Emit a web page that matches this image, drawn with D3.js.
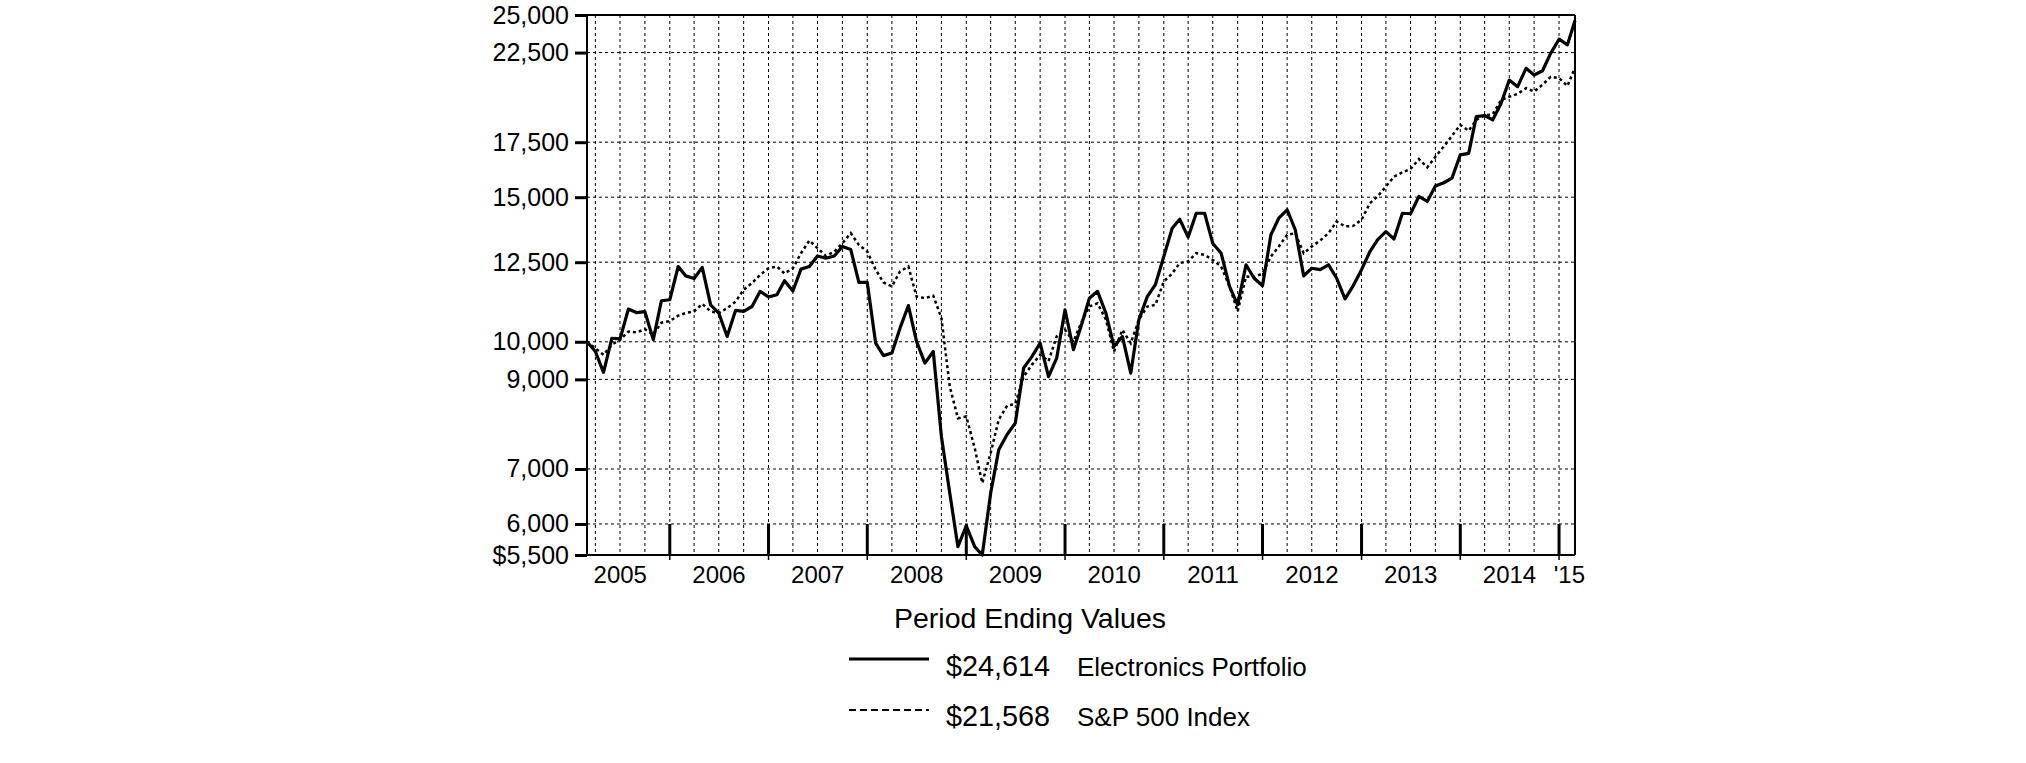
<!DOCTYPE html>
<html>
<head>
<meta charset="utf-8">
<script src="https://cdn.jsdelivr.net/npm/d3@7"></script>
<style>
  html, body { margin: 0; padding: 0; background: #fff; }
  svg { display: block; }
  text { font-family: "Liberation Sans", Arial, sans-serif; fill: #000; }
</style>
</head>
<body>
<svg id="chart" width="2026" height="763"></svg>
<script>
// ---------- DATA ----------
const months = [
  "2005-02","2005-03","2005-04","2005-05","2005-06","2005-07","2005-08","2005-09","2005-10","2005-11","2005-12",
  "2006-01","2006-02","2006-03","2006-04","2006-05","2006-06","2006-07","2006-08","2006-09","2006-10","2006-11","2006-12",
  "2007-01","2007-02","2007-03","2007-04","2007-05","2007-06","2007-07","2007-08","2007-09","2007-10","2007-11","2007-12",
  "2008-01","2008-02","2008-03","2008-04","2008-05","2008-06","2008-07","2008-08","2008-09","2008-10","2008-11","2008-12",
  "2009-01","2009-02","2009-03","2009-04","2009-05","2009-06","2009-07","2009-08","2009-09","2009-10","2009-11","2009-12",
  "2010-01","2010-02","2010-03","2010-04","2010-05","2010-06","2010-07","2010-08","2010-09","2010-10","2010-11","2010-12",
  "2011-01","2011-02","2011-03","2011-04","2011-05","2011-06","2011-07","2011-08","2011-09","2011-10","2011-11","2011-12",
  "2012-01","2012-02","2012-03","2012-04","2012-05","2012-06","2012-07","2012-08","2012-09","2012-10","2012-11","2012-12",
  "2013-01","2013-02","2013-03","2013-04","2013-05","2013-06","2013-07","2013-08","2013-09","2013-10","2013-11","2013-12",
  "2014-01","2014-02","2014-03","2014-04","2014-05","2014-06","2014-07","2014-08","2014-09","2014-10","2014-11","2014-12",
  "2015-01","2015-02"
];

const electronics = [
  10000, 9730, 9180, 10100, 10080, 10960, 10850, 10880, 10060, 11220, 11250,
  12350, 12030, 11940, 12320, 11090, 10840, 10150, 10920, 10890, 11040, 11520, 11340,
  11410, 11870, 11530, 12260, 12350, 12720, 12640, 12720, 13060, 12950, 11810, 11810,
  9960, 9620, 9690, 10390, 11070, 10010, 9420, 9730, 7670, 6540, 5630, 5970,
  5630, 5500, 6540, 7390, 7710, 7960, 9290, 9600, 9960, 9070, 9550, 10940,
  9780, 10440, 11300, 11520, 10840, 9870, 10150, 9160, 10640, 11350, 11740, 12700,
  13750, 14100, 13410, 14340, 14340, 13180, 12820, 11680, 11090, 12410, 11950, 11700,
  13500, 14140, 14480, 13690, 12030, 12290, 12240, 12410, 11950, 11280, 11700, 12240,
  12880, 13310, 13620, 13340, 14340, 14320, 15030, 14820, 15480, 15620, 15820, 16890,
  16960, 18800, 18860, 18630, 19520, 20830, 20450, 21530, 21130, 21380, 22450, 23360,
  22990, 24614
];

const sp500 = [
  10000, 9820, 9640, 9920, 10060, 10290, 10265, 10360, 10200, 10550, 10600,
  10760, 10840, 10890, 11120, 10890, 10840, 10990, 11190, 11570, 11790, 12065, 12290,
  12350, 12110, 12290, 12820, 13285, 13000, 12720, 12880, 13180, 13560, 13120, 12880,
  12240, 11810, 11680, 12180, 12350, 11355, 11300, 11380, 10690, 8820, 8070, 8110,
  7425, 6730, 7320, 8040, 8360, 8400, 9070, 9380, 9640, 9470, 10150, 10340,
  10000, 10540, 11040, 11140, 10640, 9730, 10340, 9960, 10640, 11040, 11090, 11840,
  12110, 12470, 12530, 12820, 12760, 12580, 12350, 11680, 10890, 12010, 11990, 12110,
  12700, 13060, 13500, 13560, 12820, 13060, 13285, 13560, 14010, 13820, 13840, 14080,
  14750, 15030, 15450, 15890, 16080, 16230, 16690, 16310, 16800, 17290, 17810, 18370,
  18070, 18630, 18860, 18930, 19700, 19880, 20040, 20360, 20170, 20560, 21020, 20940,
  20490, 21568
];

const seriesNames = ["Electronics Portfolio", "S&P 500 Index"];
const yTicks = [5500, 6000, 7000, 9000, 10000, 12500, 15000, 17500, 22500, 25000];
const yearLabels = ["2005","2006","2007","2008","2009","2010","2011","2012","2013","2014","'15"];
const legendTitle = "Period Ending Values";

// ---------- SCALES ----------
const parseMonth = d3.timeParse("%Y-%m");
const monthEnd = s => d3.timeDay.offset(d3.timeMonth.offset(parseMonth(s), 1), -1);
const dates = months.map(monthEnd);

const pL = 587, pR = 1575, pT = 15, pB = 555;
const x = d3.scaleTime().domain([dates[0], dates[dates.length - 1]]).range([pL, pR]);
const y = d3.scaleLog().domain([5500, 25000]).range([pB, pT]);

const svg = d3.select("#chart");
svg.append("rect").attr("width", 2026).attr("height", 763).attr("fill", "#fff");

// ---------- GRID ----------
const quarterEnds = dates.filter(d => d.getMonth() % 3 === 2 && d < dates[dates.length - 1]);
const yearEnds = dates.filter(d => d.getMonth() === 11);

const grid = svg.append("g");
grid.selectAll("line.vg").data(quarterEnds).join("line")
  .attr("x1", d => x(d)).attr("x2", d => x(d))
  .attr("y1", pT).attr("y2", pB)
  .attr("stroke", "#000").attr("stroke-width", 1).attr("stroke-dasharray", "3,3");

grid.selectAll("line.hg").data(yTicks.filter(t => t !== 5500 && t !== 25000)).join("line")
  .attr("x1", pL).attr("x2", pR)
  .attr("y1", d => y(d)).attr("y2", d => y(d))
  .attr("stroke", "#000").attr("stroke-width", 1).attr("stroke-dasharray", "3,3");

// ---------- Y AXIS ----------
const yAxis = d3.axisLeft(y).tickValues(yTicks)
  .tickFormat(d => d === 5500 ? "$" + d3.format(",")(d) : d3.format(",")(d))
  .tickSize(12).tickPadding(6);
const ya = svg.append("g").attr("transform", `translate(${pL},0)`).call(yAxis);
ya.select(".domain").remove();
ya.selectAll(".tick line").attr("stroke", "#000").attr("stroke-width", 3);
ya.selectAll(".tick text").attr("font-size", 25).attr("font-family", "Liberation Sans, Arial, sans-serif").attr("fill", "#000");

// ---------- FRAME ----------
svg.append("line").attr("x1", pL).attr("x2", pL).attr("y1", pT).attr("y2", pB + 1).attr("stroke", "#000").attr("stroke-width", 2);
svg.append("line").attr("x1", pL).attr("x2", pR).attr("y1", pB).attr("y2", pB).attr("stroke", "#000").attr("stroke-width", 2);
svg.append("line").attr("x1", pL).attr("x2", pR).attr("y1", pT).attr("y2", pT).attr("stroke", "#000").attr("stroke-width", 2);
svg.append("line").attr("x1", pR).attr("x2", pR).attr("y1", pT).attr("y2", pB).attr("stroke", "#000").attr("stroke-width", 2);

// year-end thick ticks inside plot and small ticks below
svg.append("g").selectAll("line").data(yearEnds).join("line")
  .attr("x1", d => x(d)).attr("x2", d => x(d))
  .attr("y1", y(6000)).attr("y2", pB)
  .attr("stroke", "#000").attr("stroke-width", 3);
svg.append("g").selectAll("line").data(yearEnds).join("line")
  .attr("x1", d => x(d)).attr("x2", d => x(d))
  .attr("y1", pB).attr("y2", pB + 5)
  .attr("stroke", "#000").attr("stroke-width", 1.5);

// year labels
const labelPos = yearLabels.map((lab, i) => {
  if (i < yearLabels.length - 1) return { lab, x: x(new Date(2005 + i, 6, 1)), anchor: "middle" };
  return { lab, x: x(dates[dates.length - 2]) + 2, anchor: "middle" };
});
svg.append("g").selectAll("text").data(labelPos).join("text")
  .attr("x", d => d.x).attr("y", 583)
  .attr("text-anchor", d => d.anchor)
  .attr("font-size", 24)
  .text(d => d.lab);

// ---------- LINES ----------
const line = vals => d3.line().x((d, i) => x(dates[i])).y(d => y(d))(vals);
svg.append("path").attr("d", line(sp500)).attr("fill", "none")
  .attr("stroke", "#000").attr("stroke-width", 2.5).attr("stroke-dasharray", "3,3");
svg.append("path").attr("d", line(electronics)).attr("fill", "none")
  .attr("stroke", "#000").attr("stroke-width", 3.2).attr("stroke-linejoin", "round");

// ---------- LEGEND ----------
svg.append("text").attr("x", 1030).attr("y", 628).attr("text-anchor", "middle")
  .attr("font-size", 28.5).text(legendTitle);

const legendRows = [
  { value: electronics[electronics.length - 1], name: seriesNames[0], dash: null, w: 3.2, ly: 659, ty: 676 },
  { value: sp500[sp500.length - 1], name: seriesNames[1], dash: "7,4", w: 2, ly: 710, ty: 726 }
];
const lg = svg.append("g");
lg.selectAll("line").data(legendRows).join("line")
  .attr("x1", 849).attr("x2", 929).attr("y1", d => d.ly).attr("y2", d => d.ly)
  .attr("stroke", "#000").attr("stroke-width", d => d.w)
  .attr("stroke-dasharray", d => d.dash);
lg.selectAll("text.v").data(legendRows).join("text").attr("class", "v")
  .attr("x", 946).attr("y", d => d.ty).attr("font-size", 28.8)
  .text(d => "$" + d3.format(",")(d.value));
lg.selectAll("text.n").data(legendRows).join("text").attr("class", "n")
  .attr("x", 1077).attr("y", d => d.ty).attr("font-size", 26)
  .text(d => d.name);
</script>
</body>
</html>
